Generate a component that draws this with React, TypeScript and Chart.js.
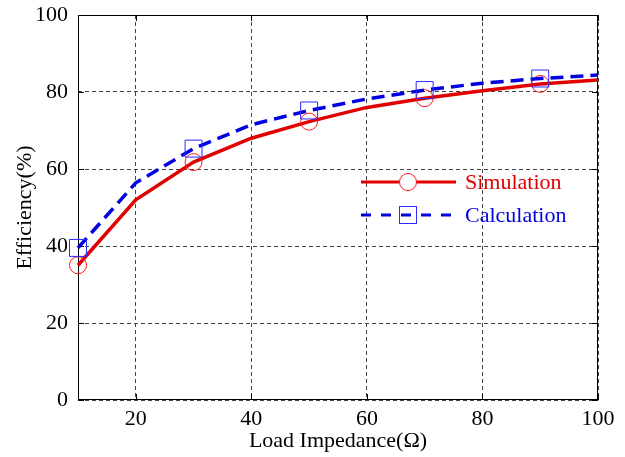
import React, { useEffect, useRef } from 'react';
import { Chart, registerables } from 'chart.js';
Chart.register(...registerables);

const loadImpedance = [10, 20, 30, 40, 50, 60, 70, 80, 90, 100];
const simulation = [35, 52, 61.8, 68, 72.3, 76, 78.4, 80.3, 82.1, 83.1];
const calculation = [39.5, 56.4, 65.3, 71.5, 75.2, 78.2, 80.5, 82.3, 83.5, 84.4];
const markerAt = [10, 30, 50, 70, 90];
const xTicks = [20, 40, 60, 80, 100];
const yTicks = [0, 20, 40, 60, 80, 100];
const seriesNames = ['Simulation', 'Calculation'];
const xTitle = 'Load Impedance(Ω)';
const yTitle = 'Efficiency(%)';

const FONT = "'Liberation Serif', 'Times New Roman', serif";
const RED_LINE = '#e00000';
const RED_MARK = '#ff1a1a';
const BLUE_LINE = '#0000e0';
const BLUE_MARK = '#2a2aff';

const framePlugin = {
  id: 'frame',
  beforeDatasetsDraw(chart: any) {
    const { ctx, chartArea: a, scales } = chart;
    ctx.save();
    ctx.strokeStyle = '#000';
    ctx.lineWidth = 1;
    ctx.setLineDash([]);
    ctx.strokeRect(a.left + 0.5, a.top + 0.5, a.right - a.left - 1, a.bottom - a.top - 1);
    const L = 6;
    ctx.beginPath();
    xTicks.forEach((v) => {
      const x = Math.round(scales.x.getPixelForValue(v)) + 0.5;
      ctx.moveTo(x, a.bottom);
      ctx.lineTo(x, a.bottom - L);
      ctx.moveTo(x, a.top);
      ctx.lineTo(x, a.top + L);
    });
    yTicks.forEach((v) => {
      const y = Math.round(scales.y.getPixelForValue(v)) + 0.5;
      ctx.moveTo(a.left, y);
      ctx.lineTo(a.left + L, y);
      ctx.moveTo(a.right, y);
      ctx.lineTo(a.right - L, y);
    });
    ctx.stroke();
    ctx.restore();
  },
};

const legendPlugin = {
  id: 'customLegend',
  afterDatasetsDraw(chart: any) {
    const { ctx } = chart;
    ctx.save();
    const x0 = 361, x1 = 456, xm = 408, tx = 465;
    let y = 182;
    ctx.strokeStyle = RED_LINE;
    ctx.lineWidth = 3;
    ctx.setLineDash([]);
    ctx.beginPath();
    ctx.moveTo(x0, y);
    ctx.lineTo(x1, y);
    ctx.stroke();
    ctx.fillStyle = '#fff';
    ctx.strokeStyle = RED_MARK;
    ctx.lineWidth = 1;
    ctx.beginPath();
    ctx.arc(xm, y, 8.5, 0, Math.PI * 2);
    ctx.fill();
    ctx.stroke();
    ctx.font = `22px ${FONT}`;
    ctx.textBaseline = 'middle';
    ctx.textAlign = 'left';
    ctx.fillStyle = RED_LINE;
    ctx.fillText(seriesNames[0], tx, y + 1);
    y = 215;
    ctx.strokeStyle = BLUE_LINE;
    ctx.lineWidth = 3;
    ctx.setLineDash([10, 10]);
    ctx.beginPath();
    ctx.moveTo(x0, y);
    ctx.lineTo(x1, y);
    ctx.stroke();
    ctx.setLineDash([]);
    ctx.strokeStyle = BLUE_MARK;
    ctx.lineWidth = 1;
    ctx.strokeRect(xm - 8.5, y - 8.5, 17, 17);
    ctx.fillStyle = BLUE_LINE;
    ctx.fillText(seriesNames[1], tx, y + 1);
    ctx.restore();
  },
};

export default function App() {
  const ref = useRef<HTMLCanvasElement>(null);
  useEffect(() => {
    if (!ref.current) return;
    const radius = (r: number) => (c: any) => (markerAt.includes(loadImpedance[c.dataIndex]) ? r : 0);
    const chart = new Chart(ref.current, {
      type: 'line',
      data: {
        datasets: [
          {
            label: seriesNames[1],
            data: loadImpedance.map((x, i) => ({ x, y: calculation[i] })),
            borderColor: BLUE_LINE,
            borderWidth: 3.5,
            borderDash: [13, 7],
            pointStyle: 'rect',
            pointRadius: radius(12),
            pointBorderColor: BLUE_MARK,
            pointBorderWidth: 1,
            pointBackgroundColor: 'transparent',
            clip: false,
            tension: 0,
          },
          {
            label: seriesNames[0],
            data: loadImpedance.map((x, i) => ({ x, y: simulation[i] })),
            borderColor: RED_LINE,
            borderWidth: 3.5,
            pointStyle: 'circle',
            pointRadius: radius(8.5),
            pointBorderColor: RED_MARK,
            pointBorderWidth: 1,
            pointBackgroundColor: 'transparent',
            clip: false,
            tension: 0,
          },
        ],
      },
      options: {
        animation: false,
        responsive: false,
        events: [],
        layout: { padding: { left: 0, top: 15, right: 27, bottom: 0 } },
        plugins: { legend: { display: false }, tooltip: { enabled: false } },
        scales: {
          x: {
            type: 'linear',
            min: 10,
            max: 100,
            afterBuildTicks: (axis: any) => {
              axis.ticks = xTicks.map((v) => ({ value: v }));
            },
            afterFit: (s: any) => {
              s.height = 57;
              s.paddingLeft = 0;
              s.paddingRight = 0;
            },
            grid: { color: '#444', lineWidth: 1, drawTicks: false },
            border: { display: false, dash: [4, 3] },
            ticks: {
              padding: 6,
              color: '#000',
              font: { family: FONT, size: 22 },
              maxRotation: 0,
            },
            title: {
              display: true,
              text: xTitle,
              color: '#000',
              font: { family: FONT, size: 22 },
              padding: { top: 0, bottom: 3 },
            },
          },
          y: {
            type: 'linear',
            min: 0,
            max: 100,
            afterBuildTicks: (axis: any) => {
              axis.ticks = yTicks.map((v) => ({ value: v }));
            },
            afterFit: (s: any) => {
              s.width = 78;
              s.paddingTop = 0;
              s.paddingBottom = 0;
            },
            grid: { color: '#444', lineWidth: 1, drawTicks: false },
            border: { display: false, dash: [4, 3] },
            ticks: {
              padding: 10,
              color: '#000',
              font: { family: FONT, size: 22 },
            },
            title: {
              display: true,
              text: yTitle,
              color: '#000',
              font: { family: FONT, size: 22 },
              padding: { top: 12, bottom: 0 },
            },
          },
        },
      },
      plugins: [framePlugin, legendPlugin],
    });
    return () => chart.destroy();
  }, []);
  return (
    <div style={{ position: 'absolute', left: 0, top: 0, width: 625, height: 457, background: '#fff' }}>
      <canvas ref={ref} width={625} height={457} style={{ width: 625, height: 457 }} />
    </div>
  );
}
